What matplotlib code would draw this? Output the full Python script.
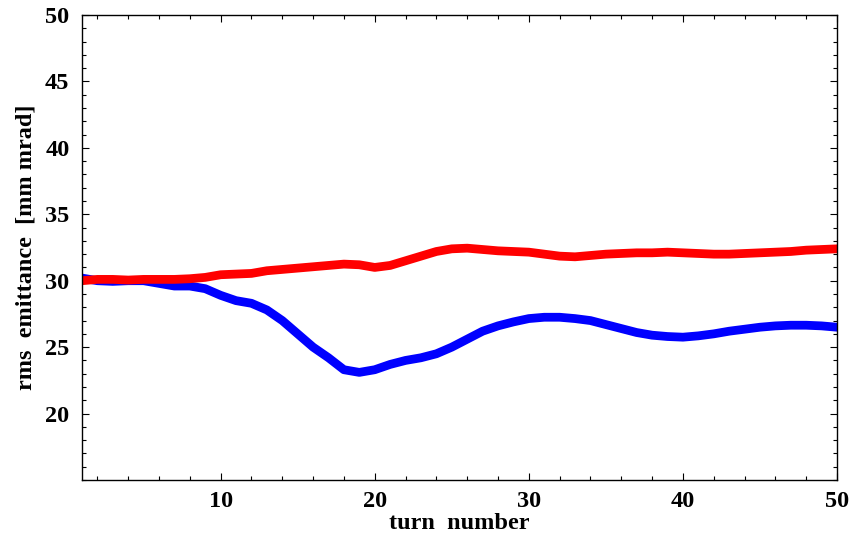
import matplotlib.pyplot as plt
from matplotlib.ticker import MultipleLocator

turns = list(range(1, 51))

emit_blue = [30.2, 30.0, 29.95, 30.0, 30.0, 29.8, 29.6, 29.6, 29.4, 28.9,
             28.5, 28.3, 27.8, 27.0, 26.0, 25.0, 24.2, 23.3, 23.1, 23.3,
             23.7, 24.0, 24.2, 24.5, 25.0, 25.6, 26.2, 26.6, 26.9, 27.15,
             27.25, 27.25, 27.15, 27.0, 26.7, 26.4, 26.1, 25.9, 25.8, 25.75,
             25.85, 26.0, 26.2, 26.35, 26.5, 26.6, 26.65, 26.65, 26.6, 26.5]

emit_red = [30.0, 30.1, 30.1, 30.05, 30.1, 30.1, 30.1, 30.15, 30.25, 30.45,
            30.5, 30.55, 30.75, 30.85, 30.95, 31.05, 31.15, 31.25, 31.2, 31.0,
            31.15, 31.5, 31.85, 32.2, 32.4, 32.45, 32.35, 32.25, 32.2, 32.15,
            32.0, 31.85, 31.8, 31.9, 32.0, 32.05, 32.1, 32.1, 32.15, 32.1,
            32.05, 32.0, 32.0, 32.05, 32.1, 32.15, 32.2, 32.3, 32.35, 32.4]

x_ticks = [10, 20, 30, 40, 50]
y_ticks = [20, 25, 30, 35, 40, 45, 50]

plt.rcParams['font.family'] = ['Liberation Serif', 'DejaVu Serif']
plt.rcParams['font.weight'] = 'bold'
plt.rcParams['font.size'] = 17.5

fig = plt.figure(figsize=(8.52, 5.42), dpi=100)
ax = fig.add_axes([0.0962, 0.1144, 0.8862, 0.8579])

ax.plot(turns, emit_blue, color='#0000ff', lw=6.3, solid_capstyle='round')
ax.plot(turns, emit_red, color='#ff0000', lw=6.3, solid_capstyle='round')

ax.set_xlim(1, 50)
ax.set_ylim(15, 50)
ax.set_xticks(x_ticks)
ax.set_yticks(y_ticks)
ax.xaxis.set_minor_locator(MultipleLocator(2))
ax.yaxis.set_minor_locator(MultipleLocator(1))
ax.tick_params(which='both', direction='in', top=True, right=True, width=0.8)
ax.tick_params(which='major', length=5)
ax.tick_params(which='minor', length=3)
ax.tick_params(axis='x', which='major', pad=8)
ax.tick_params(axis='y', which='major', pad=9)
for sp in ax.spines.values():
    sp.set_linewidth(1.0)

ax.set_xlabel('turn  number', fontweight='bold', labelpad=1)
ax.set_ylabel('rms  emittance  [mm mrad]', fontweight='bold', labelpad=6)

fig.savefig('out.png', dpi=100)
